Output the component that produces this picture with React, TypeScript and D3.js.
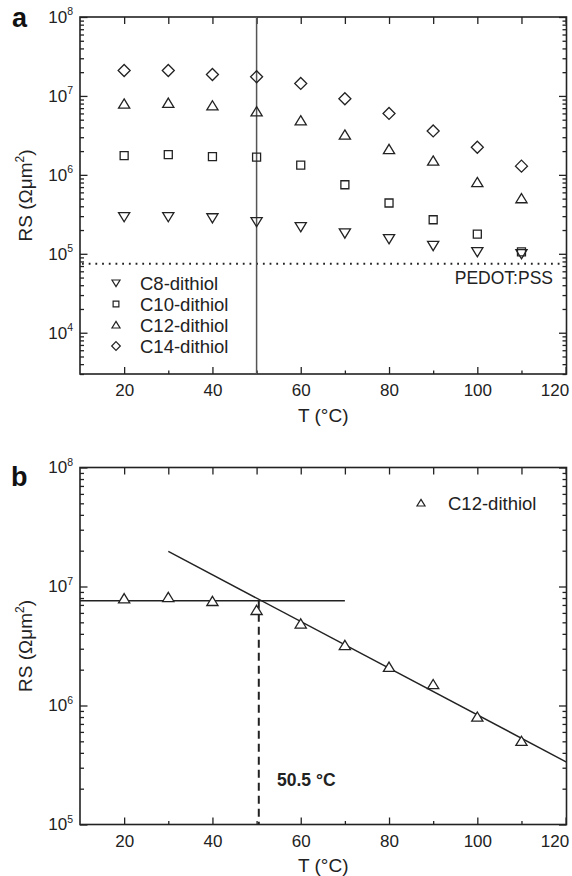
import React, { useEffect, useRef } from 'react';
import * as d3 from 'd3';

// temperatures (°C) and series resistances (Ω·µm²)
const temps = [20, 30, 40, 50, 60, 70, 80, 90, 100, 110];
const rsC8 = [2.95e5, 2.95e5, 2.85e5, 2.55e5, 2.2e5, 1.83e5, 1.55e5, 1.27e5, 1.06e5, 1.0e5];
const rsC10 = [1.75e6, 1.8e6, 1.7e6, 1.68e6, 1.33e6, 7.5e5, 4.4e5, 2.7e5, 1.78e5, 1.06e5];
const rsC12 = [7.9e6, 8.1e6, 7.5e6, 6.3e6, 4.85e6, 3.2e6, 2.1e6, 1.5e6, 8.0e5, 5.0e5];
const rsC14 = [2.1e7, 2.1e7, 1.87e7, 1.75e7, 1.44e7, 9.2e6, 6.0e6, 3.6e6, 2.24e6, 1.29e6];

const seriesNames = ['C8-dithiol', 'C10-dithiol', 'C12-dithiol', 'C14-dithiol'];
const seriesShapes = ['down', 'square', 'up', 'diamond'];

const xTicksMajor = [20, 40, 60, 80, 100, 120];
const xTicksMinor = [30, 50, 70, 90, 110];

const pedotLevel = 7.5e4;
const markerT = 50;
const transitionT = 50.5;

// fitted lines in panel b
const flatFitT = [10, 70];
const flatFitRS = [7.6e6, 7.6e6];
const slopeFitT = [30, 120.2];
const slopeFitRS = [1.97e7, 3.35e5];

const FONT = '"Liberation Sans", Arial, Helvetica, sans-serif';

const shapePath = (shape: string, big: boolean) => {
  const s = big ? 1 : 0.72;
  if (shape === 'up') {
    const w = 5.6 * s, h = 9.2 * s;
    return `M0,${-h * 0.55}L${w},${h * 0.45}L${-w},${h * 0.45}Z`;
  }
  if (shape === 'down') {
    const w = 5.6 * s, h = 9.2 * s;
    return `M0,${h * 0.55}L${w},${-h * 0.45}L${-w},${-h * 0.45}Z`;
  }
  if (shape === 'square') {
    const a = 4 * s;
    return `M${-a},${-a}H${a}V${a}H${-a}Z`;
  }
  const r = 6 * s;
  return `M0,${-r}L${r},0L0,${r}L${-r},0Z`;
};

const App = () => {
  const svgRef = useRef(null);

  const width = 572;
  const height = 876;

  useEffect(() => {
    const svg = d3.select(svgRef.current);
    svg.selectAll('*').remove();

    const left = 80;
    const right = 566.5;

    const x = d3.scaleLinear().domain([10, 120.2]).range([left, right]);

    const drawFrame = (y, top: number, bottom: number, decades: number[]) => {
      const minors: number[] = [];
      const [lo, hi] = y.domain();
      decades.forEach(d => {
        for (let k = 2; k <= 9; k++) {
          const v = k * d;
          if (v >= lo && v <= hi) minors.push(v);
        }
      });
      if (lo < decades[0]) {
        for (let k = 2; k <= 9; k++) {
          const v = k * decades[0] / 10;
          if (v >= lo) minors.push(v);
        }
      }
      const g = svg.append('g');

      const axisStyle = (sel) => {
        sel.select('.domain').remove();
        sel.selectAll('line').attr('stroke', '#222').attr('stroke-width', 1.3);
        sel.selectAll('text').attr('font-family', FONT).attr('font-size', 17).attr('fill', '#222');
      };

      // bottom
      g.append('g').attr('transform', `translate(0,${bottom})`)
        .call(d3.axisBottom(x).tickValues(xTicksMajor).tickSizeInner(-7).tickSizeOuter(0).tickPadding(10).tickFormat(d3.format('d')))
        .call(axisStyle);
      g.append('g').attr('transform', `translate(0,${bottom})`)
        .call(d3.axisBottom(x).tickValues(xTicksMinor).tickSizeInner(-3.5).tickSizeOuter(0).tickFormat(() => ''))
        .call(axisStyle);
      // top
      g.append('g').attr('transform', `translate(0,${top})`)
        .call(d3.axisTop(x).tickValues([...xTicksMajor, ...xTicksMinor]).tickSizeInner(-7).tickSizeOuter(0).tickFormat(() => ''))
        .call(axisStyle);
      // left / right
      [[d3.axisLeft, left], [d3.axisRight, right]].forEach(([axisFn, pos]: any) => {
        g.append('g').attr('transform', `translate(${pos},0)`)
          .call(axisFn(y).tickValues(decades).tickSizeInner(-7.5).tickSizeOuter(0).tickFormat(() => ''))
          .call(axisStyle);
        g.append('g').attr('transform', `translate(${pos},0)`)
          .call(axisFn(y).tickValues(minors).tickSizeInner(-4).tickSizeOuter(0).tickFormat(() => ''))
          .call(axisStyle);
      });

      // the last x label sits flush with the right edge
      g.selectAll('text').filter((d) => d === 120).attr('text-anchor', 'end').attr('dx', 3);

      // frame
      g.append('rect')
        .attr('x', left).attr('y', top)
        .attr('width', right - left).attr('height', bottom - top)
        .attr('fill', 'none').attr('stroke', '#222').attr('stroke-width', 1.6);

      // y tick labels 10^n
      decades.forEach(d => {
        const t = g.append('text')
          .attr('x', 73).attr('y', y(d)).attr('dy', '0.35em')
          .attr('text-anchor', 'end')
          .attr('font-family', FONT).attr('font-size', 17).attr('fill', '#222');
        t.append('tspan').text('10');
        t.append('tspan').attr('font-size', 10.5).attr('dy', -7.5).text(String(Math.round(Math.log10(d))));
      });

      // axis titles
      g.append('text')
        .attr('x', (left + right) / 2).attr('y', bottom + 47.5)
        .attr('text-anchor', 'middle')
        .attr('font-family', FONT).attr('font-size', 19).attr('fill', '#222')
        .text('T (°C)');

      const yt = g.append('text')
        .attr('transform', `translate(32,${(top + bottom) / 2}) rotate(-90)`)
        .attr('text-anchor', 'middle')
        .attr('font-family', FONT).attr('font-size', 19).attr('fill', '#222');
      yt.append('tspan').text('RS (Ωμm');
      yt.append('tspan').attr('font-size', 12).attr('dy', -8).text('2');
      yt.append('tspan').attr('dy', 8).text(')');
    };

    // ---------------- panel a ----------------
    const topA = 17, bottomA = 374;
    const yA = d3.scaleLog().domain([3e3, 1e8]).range([bottomA, topA]);
    drawFrame(yA, topA, bottomA, [1e4, 1e5, 1e6, 1e7, 1e8]);

    svg.append('text').attr('x', 12).attr('y', 27)
      .attr('font-family', FONT).attr('font-size', 27).attr('font-weight', 'bold').attr('fill', '#111')
      .text('a');

    // PEDOT:PSS level
    svg.append('line')
      .attr('x1', left + 2).attr('x2', right - 2)
      .attr('y1', yA(pedotLevel)).attr('y2', yA(pedotLevel))
      .attr('stroke', '#222').attr('stroke-width', 2)
      .attr('stroke-dasharray', '1.8,4.9');
    svg.append('text')
      .attr('x', 553).attr('y', yA(pedotLevel) + 20)
      .attr('text-anchor', 'end')
      .attr('font-family', FONT).attr('font-size', 17.5).attr('fill', '#222')
      .text('PEDOT:PSS');

    // vertical marker at 50 °C
    svg.append('line')
      .attr('x1', x(markerT)).attr('x2', x(markerT))
      .attr('y1', topA).attr('y2', bottomA)
      .attr('stroke', '#555').attr('stroke-width', 1.5);

    const seriesA = [rsC8, rsC10, rsC12, rsC14];
    seriesA.forEach((vals, i) => {
      svg.append('g').selectAll('path')
        .data(vals.map((v, j) => [temps[j], v]))
        .enter()
        .append('path')
        .attr('transform', d => `translate(${x(d[0])},${yA(d[1])})`)
        .attr('d', shapePath(seriesShapes[i], true))
        .attr('fill', 'none')
        .attr('stroke', '#222')
        .attr('stroke-width', 1.3);
    });

    // legend a
    const legA = svg.append('g');
    seriesNames.forEach((name, i) => {
      const ly = 283 + i * 21;
      legA.append('path')
        .attr('transform', `translate(116,${ly})`)
        .attr('d', shapePath(seriesShapes[i], false))
        .attr('fill', 'none').attr('stroke', '#222').attr('stroke-width', 1.2);
      legA.append('text')
        .attr('x', 140).attr('y', ly + 6.5)
        .attr('font-family', FONT).attr('font-size', 18.5).attr('fill', '#222')
        .text(name);
    });

    // ---------------- panel b ----------------
    const topB = 467.5, bottomB = 824.5;
    const yB = d3.scaleLog().domain([1e5, 1e8]).range([bottomB, topB]);
    drawFrame(yB, topB, bottomB, [1e5, 1e6, 1e7, 1e8]);

    svg.append('text').attr('x', 11).attr('y', 486)
      .attr('font-family', FONT).attr('font-size', 27).attr('font-weight', 'bold').attr('fill', '#111')
      .text('b');

    const fitLine = d3.line().x(d => x(d[0])).y(d => yB(d[1]));
    [[flatFitT, flatFitRS], [slopeFitT, slopeFitRS]].forEach(([ts, vs]) => {
      svg.append('path')
        .attr('d', fitLine(ts.map((t, j) => [t, vs[j]])))
        .attr('fill', 'none').attr('stroke', '#222').attr('stroke-width', 1.4);
    });

    svg.append('line')
      .attr('x1', x(transitionT)).attr('x2', x(transitionT))
      .attr('y1', yB(flatFitRS[0])).attr('y2', bottomB)
      .attr('stroke', '#222').attr('stroke-width', 2)
      .attr('stroke-dasharray', '8,5');

    svg.append('text')
      .attr('x', 277).attr('y', 786)
      .attr('font-family', FONT).attr('font-size', 17.5).attr('font-weight', 'bold').attr('fill', '#222')
      .text(`${transitionT} °C`);

    svg.append('g').selectAll('path')
      .data(rsC12.map((v, j) => [temps[j], v]))
      .enter()
      .append('path')
      .attr('transform', d => `translate(${x(d[0])},${yB(d[1])})`)
      .attr('d', shapePath('up', true))
      .attr('fill', 'white')
      .attr('stroke', '#222')
      .attr('stroke-width', 1.3);

    svg.append('path')
      .attr('transform', 'translate(421,503)')
      .attr('d', shapePath('up', false))
      .attr('fill', 'none').attr('stroke', '#222').attr('stroke-width', 1.2);
    svg.append('text')
      .attr('x', 448).attr('y', 510)
      .attr('font-family', FONT).attr('font-size', 18.5).attr('fill', '#222')
      .text(seriesNames[2]);
  }, []);

  return (
    <svg
      ref={svgRef}
      width={width}
      height={height}
      style={{ position: 'absolute', left: 0, top: 0, background: 'white' }}
    ></svg>
  );
};

export default App;
